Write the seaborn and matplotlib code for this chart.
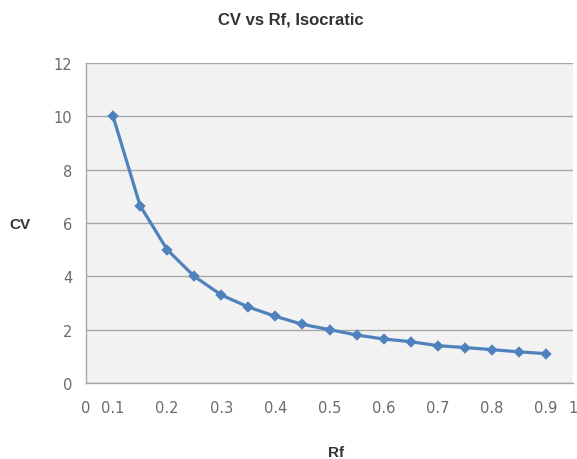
import matplotlib
matplotlib.use("Agg")
import matplotlib.pyplot as plt
import seaborn as sns
import pandas as pd

# Category axis (as in the reference): 0, 0.1, 0.15, ..., 0.9, 1
categories = ["0", "0.1", "0.15", "0.2", "0.25", "0.3", "0.35", "0.4", "0.45",
              "0.5", "0.55", "0.6", "0.65", "0.7", "0.75", "0.8", "0.85", "0.9", "1"]
tick_labels = ["0", "0.1", "", "0.2", "", "0.3", "", "0.4", "", "0.5", "",
               "0.6", "", "0.7", "", "0.8", "", "0.9", "1"]
rf = ["0.1", "0.15", "0.2", "0.25", "0.3", "0.35", "0.4", "0.45", "0.5",
      "0.55", "0.6", "0.65", "0.7", "0.75", "0.8", "0.85", "0.9"]
cv = [10.0, 6.65, 5.0, 4.0, 3.3, 2.85, 2.5, 2.2, 2.0,
      1.8, 1.65, 1.55, 1.4, 1.33, 1.25, 1.17, 1.1]
y_ticks = [0, 2, 4, 6, 8, 10, 12]

df = pd.DataFrame({"Rf": rf, "CV": cv})

sns.set_style("white")
plt.rcParams["font.family"] = ["DejaVu Sans"]

fig = plt.figure(figsize=(5.77, 4.60), dpi=100)
ax = fig.add_axes([86 / 577, 76 / 460, (573 - 86) / 577, (384 - 64) / 460])
ax.set_facecolor("#f2f2f2")

sns.pointplot(data=df, x="Rf", y="CV", order=categories, errorbar=None,
              color="#4f81bd", markers="D", markersize=4, linewidth=2.3, ax=ax)

ax.set_xlim(0, len(categories) - 1)
ax.set_ylim(0, 12)
ax.set_yticks(y_ticks)
ax.set_yticklabels([str(v) for v in y_ticks])
ax.set_xticks(range(len(categories)))
ax.set_xticklabels(tick_labels)

grid_c = "#a6a6a6"
ax.yaxis.grid(True, color=grid_c, linewidth=1.0)
ax.xaxis.grid(False)
ax.set_axisbelow(True)
for s in ["top", "right"]:
    ax.spines[s].set_visible(False)
for s in ["left", "bottom"]:
    ax.spines[s].set_visible(True)
    ax.spines[s].set_color(grid_c)
    ax.spines[s].set_linewidth(1.0)

ax.tick_params(axis="both", which="major", direction="out", length=4, width=1,
               color=grid_c, labelcolor="#6a6a6a", labelsize=10.5, pad=6)
ax.tick_params(axis="x", pad=8)

ax.set_xlabel("")
ax.set_ylabel("")
fig.text(20 / 577, 1 - 225 / 460, "CV", ha="center", va="center",
         fontsize=11, fontweight="bold", color="#333333", family="Liberation Sans")
fig.text(336 / 577, 1 - 453 / 460, "Rf", ha="center", va="center",
         fontsize=11, fontweight="bold", color="#333333", family="Liberation Sans")
fig.text(291 / 577, 1 - 20 / 460, "CV vs Rf, Isocratic", ha="center", va="center",
         fontsize=12, fontweight="bold", color="#333333", family="Liberation Sans")

fig.savefig("out.png", dpi=100, facecolor="white")
